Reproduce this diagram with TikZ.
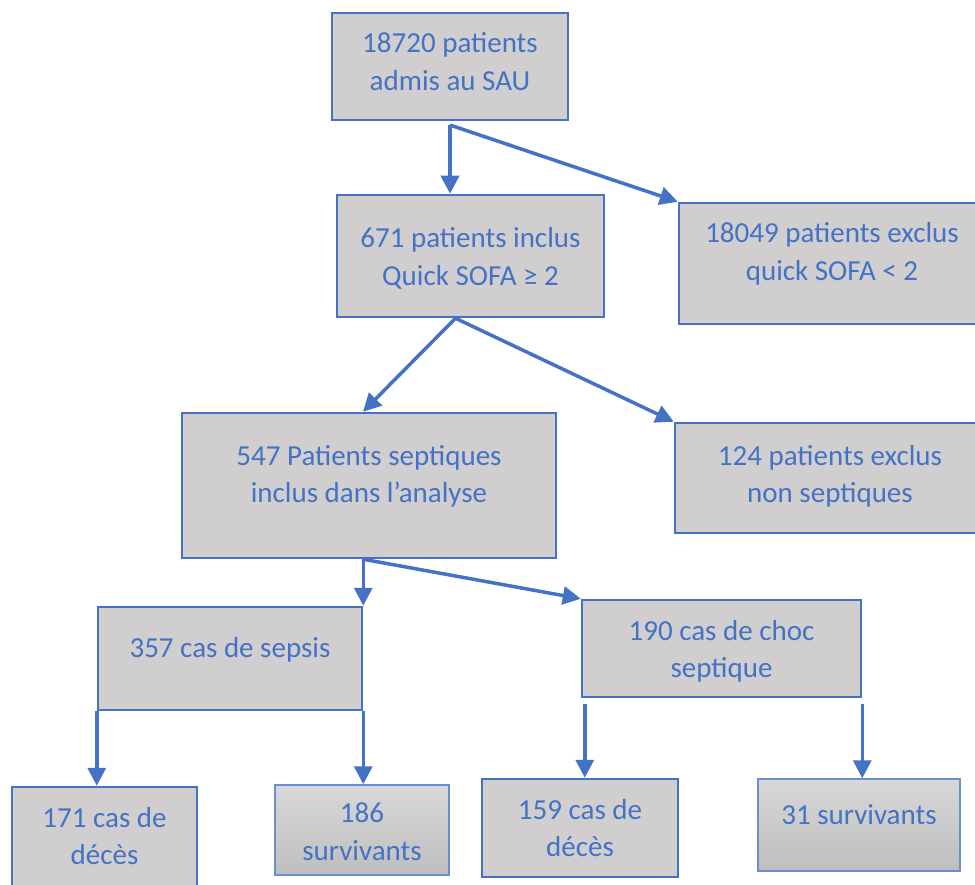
\documentclass[tikz,border=0pt]{standalone}
\usepackage{fontspec}
\setmainfont{Carlito}
\usepackage{tikz}
\usetikzlibrary{arrows.meta,calc}

\definecolor{boxblue}{HTML}{4472C4}
\definecolor{boxgray}{HTML}{D0CECE}
\definecolor{gradtop}{HTML}{D8D8D8}
\definecolor{gradbot}{HTML}{BEBEBE}
\definecolor{lightblue}{HTML}{6A8ED2}

\begin{document}
\begin{tikzpicture}[x=1pt,y=-1pt,
    box/.style={draw=boxblue,line width=2.5pt,fill=boxgray,text=boxblue,
      align=center,inner sep=0pt,text height=20pt,
      font=\fontsize{29}{37.5}\selectfont},
    twolines/.style={text height=60pt},
    shadedbox/.style={box,draw=lightblue,line width=1.5pt,
      top color=gradtop,bottom color=gradbot},
    flow/.style={draw=boxblue,line width=3.5pt,
      -{Triangle[length=18pt,width=18pt]}}]
  \useasboundingbox (0,0) rectangle (975,885);

  \node (sau) [box,twolines,minimum width=236pt,minimum height=107pt,text depth=11.6pt]
    at (450,66.3) {18720 patients\\admis au SAU};
  \node (inclus) [box,twolines,minimum width=267pt,minimum height=122pt,text depth=1pt]
    at (470.5,256) {671 patients inclus\\Quick SOFA ≥ 2};
  \node (exclus) [box,twolines,minimum width=306pt,minimum height=121pt,text depth=26pt]
    at (832,263.5) {18049 patients exclus\\quick SOFA < 2};
  \node (sept) [box,twolines,minimum width=374pt,minimum height=145pt,text depth=26pt]
    at (369,485.5) {547 Patients septiques\\inclus dans l’analyse};
  \node (nonsept) [box,twolines,minimum width=310pt,minimum height=110pt,text depth=11pt]
    at (830,478) {124 patients exclus\\non septiques};
  \node (sepsis) [box,minimum width=264pt,minimum height=103pt,text depth=23pt]
    at (230,658.5) {357 cas de sepsis};
  \node (choc) [box,twolines,minimum width=279pt,minimum height=97pt,text depth=2pt]
    at (721.5,648.5) {190 cas de choc\\septique};
  \node (sepsisdc) [box,twolines,minimum width=185pt,minimum height=103pt,text depth=8pt]
    at (104.5,838.5) {171 cas de\\décès};
  \node (sepsissv) [shadedbox,twolines,minimum width=174pt,minimum height=90pt,text depth=0pt]
    at (362,830) {186\\survivants};
  \node (chocdc) [box,twolines,minimum width=196pt,minimum height=98pt,text depth=3pt]
    at (580,828) {159 cas de\\décès};
  \node (chocsv) [shadedbox,minimum width=202pt,minimum height=92pt,text depth=22pt]
    at (859,825) {31 survivants};

  \path[every edge/.append style={flow}]
    ([yshift=-4pt]sau.south) edge (sau.south |- inclus.north)
    ([yshift=-4pt]sau.south) edge (exclus.north west)
    ([xshift=-15pt]inclus.south) edge ([xshift=-6pt]sept.north)
    ([xshift=-15pt]inclus.south) edge (nonsept.north west)
    (sepsis.north east |- sept.south) edge (sepsis.north east)
    (sepsis.north east |- sept.south) edge (choc.north west)
    (sepsis.south west) edge (sepsis.south west |- sepsisdc.north)
    (sepsis.south east) edge (sepsis.south east |- sepsissv.north)
    ([shift={(4pt,-6pt)}]choc.south west) edge ([xshift=4pt]choc.south west |- chocdc.north)
    ([yshift=-6pt]choc.south east) edge (choc.south east |- chocsv.north);
\end{tikzpicture}
\end{document}
